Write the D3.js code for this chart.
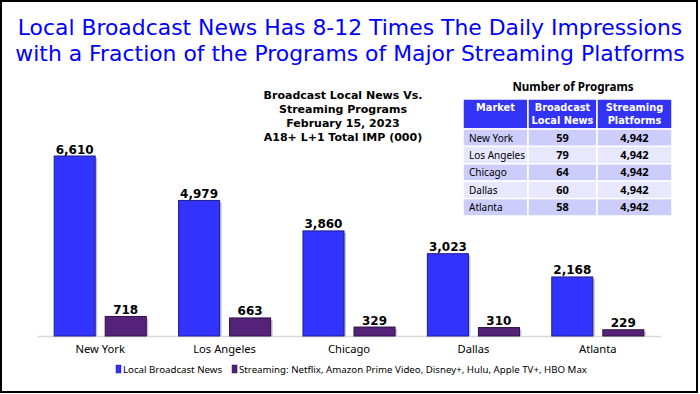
<!DOCTYPE html>
<html>
<head>
<meta charset="utf-8">
<script src="https://cdn.jsdelivr.net/npm/d3@7"></script>
<style>
  body { margin: 0; background: #fff; }
  svg { display: block; }
  text { font-family: "Noto Sans", "Open Sans", sans-serif; }
  text.dv { font-family: "DejaVu Sans", sans-serif; }
</style>
</head>
<body>
<svg id="chart" width="700" height="394"></svg>
<script>
// chart data
const markets = ['New York', 'Los Angeles', 'Chicago', 'Dallas', 'Atlanta'];
const broadcastImp = [6610, 4979, 3860, 3023, 2168];
const streamingImp = [718, 663, 329, 310, 229];
const seriesNames = ['Local Broadcast News', 'Streaming: Netflix, Amazon Prime Video, Disney+, Hulu, Apple TV+, HBO Max'];
const seriesColors = ['#3333ff', '#55227a'];
const seriesStroke = ['#1c1c8c', '#2e1045'];

// table data
const tableHeaders = [['Market'], ['Broadcast', 'Local News'], ['Streaming', 'Platforms']];
const broadcastPrograms = [59, 79, 64, 60, 58];
const streamingPrograms = [4942, 4942, 4942, 4942, 4942];

const titleLines = [
  'Local Broadcast News Has 8-12 Times The Daily Impressions',
  'with a Fraction of the Programs of Major Streaming Platforms'
];
const subtitleLines = ['Broadcast Local News Vs.', 'Streaming Programs', 'February 15, 2023', 'A18+ L+1 Total IMP (000)'];

const svg = d3.select('#chart');
const fmt = d3.format(',');

// frame
svg.append('rect')
    .attr('x', 1).attr('y', 1)
    .attr('width', 696).attr('height', 391)
    .attr('fill', '#fff')
    .attr('stroke', '#000')
    .attr('stroke-width', 2);

// title, sized to fit the width of the first line
const title = svg.append('g');
const t1 = title.append('text')
    .attr('class', 'dv')
    .attr('x', 350).attr('y', 35)
    .attr('text-anchor', 'middle')
    .attr('font-size', 20)
    .attr('fill', '#0000ff')
    .text(titleLines[0]);
const fitSize = 20 * 665 / t1.node().getComputedTextLength();
t1.attr('font-size', fitSize);
title.append('text')
    .attr('class', 'dv')
    .attr('x', 350).attr('y', 61)
    .attr('text-anchor', 'middle')
    .attr('font-size', fitSize)
    .attr('fill', '#0000ff')
    .text(titleLines[1]);

// subtitle
svg.append('g').selectAll('text')
    .data(subtitleLines)
  .enter().append('text')
    .attr('class', 'dv')
    .attr('x', 343)
    .attr('y', (d, i) => 99 + i * 14)
    .attr('text-anchor', 'middle')
    .attr('font-size', 11)
    .attr('font-weight', 'bold')
    .text(d => d);

// scales
const x0 = d3.scaleBand()
    .domain(markets)
    .range([38, 660])
    .paddingInner(0.26)
    .paddingOuter(0.13);

const x1 = d3.scaleBand()
    .domain([0, 1])
    .range([0, x0.bandwidth()])
    .paddingInner(0.196);

const y = d3.scaleLinear()
    .domain([0, 7000])
    .range([336, 145.4]);

const rows = markets.map((m, i) => ({market: m, values: [broadcastImp[i], streamingImp[i]]}));

// baseline
svg.append('line')
    .attr('x1', 38).attr('x2', 661)
    .attr('y1', y(0) + 0.5).attr('y2', y(0) + 0.5)
    .attr('stroke', '#d9d9d9')
    .attr('stroke-width', 1.5);

const groups = svg.append('g').selectAll('g')
    .data(rows)
  .enter().append('g')
    .attr('transform', d => `translate(${x0(d.market)},0)`);

const cells = groups.selectAll('g')
    .data(d => d.values.map((v, k) => ({k: k, v: v})))
  .enter().append('g');

// soft shadow to the right of each bar
cells.append('rect')
    .attr('x', d => x1(d.k) + 2)
    .attr('y', d => y(d.v) + 2)
    .attr('width', x1.bandwidth())
    .attr('height', d => y(0) - y(d.v) - 2)
    .attr('fill', '#c4c4c4');

cells.append('rect')
    .attr('x', d => x1(d.k))
    .attr('y', d => y(d.v))
    .attr('width', x1.bandwidth())
    .attr('height', d => y(0) - y(d.v))
    .attr('fill', d => seriesColors[d.k])
    .attr('stroke', d => seriesStroke[d.k])
    .attr('stroke-width', 1);

cells.append('text')
    .attr('class', 'dv')
    .attr('x', d => x1(d.k) + x1.bandwidth() / 2)
    .attr('y', d => y(d.v) - 2.5)
    .attr('text-anchor', 'middle')
    .attr('font-size', 12)
    .attr('font-weight', 'bold')
    .text(d => fmt(d.v));

// category labels
svg.append('g').selectAll('text')
    .data(markets)
  .enter().append('text')
    .attr('x', d => x0(d) + x0.bandwidth() / 2)
    .attr('y', 353)
    .attr('text-anchor', 'middle')
    .attr('font-size', 11.2)
    .text(d => d);

// legend
const legend = svg.append('g').attr('transform', 'translate(116,369)');
let lx = 0;
seriesNames.forEach((name, i) => {
  legend.append('rect')
      .attr('x', lx).attr('y', -4)
      .attr('width', 5).attr('height', 8)
      .attr('fill', seriesColors[i])
      .attr('stroke', seriesStroke[i])
      .attr('stroke-width', 0.5);
  const t = legend.append('text')
      .attr('x', lx + 7).attr('y', 3.5)
      .attr('font-size', 9.7)
      .text(name);
  lx += 7 + t.node().getComputedTextLength() + 10;
});

// number of programs table
const colEdges = [463, 528, 597, 672];
const headTop = 99, headH = 30, rowH = 17.4;

svg.append('text')
    .attr('x', 573).attr('y', 91)
    .attr('text-anchor', 'middle')
    .attr('font-size', 11.6)
    .attr('font-weight', 'bold')
    .text('Number of Programs');

const table = svg.append('g');
table.selectAll('rect.head')
    .data(tableHeaders)
  .enter().append('rect')
    .attr('class', 'head')
    .attr('x', (d, i) => colEdges[i])
    .attr('y', headTop)
    .attr('width', (d, i) => colEdges[i + 1] - colEdges[i])
    .attr('height', headH)
    .attr('fill', '#3333f5')
    .attr('stroke', '#fff')
    .attr('stroke-width', 1.5);

// header labels, one text per line
const headLines = [];
tableHeaders.forEach((lines, i) => lines.forEach((l, j) => headLines.push({col: i, line: j, text: l})));
table.selectAll('text.head')
    .data(headLines)
  .enter().append('text')
    .attr('class', 'head dv')
    .attr('x', d => (colEdges[d.col] + colEdges[d.col + 1]) / 2)
    .attr('y', d => headTop + 12 + d.line * 13)
    .attr('text-anchor', 'middle')
    .attr('font-size', 9.8)
    .attr('font-weight', 'bold')
    .attr('fill', '#fff')
    .text(d => d.text);

const tableRows = markets.map((m, i) => [m, fmt(broadcastPrograms[i]), fmt(streamingPrograms[i])]);

const tr = table.selectAll('g.row')
    .data(tableRows)
  .enter().append('g')
    .attr('class', 'row')
    .attr('transform', (d, i) => `translate(0,${headTop + headH + i * rowH})`);

tr.selectAll('rect')
    .data((d, i) => d.map(v => ({v: v, r: i})))
  .enter().append('rect')
    .attr('x', (d, j) => colEdges[j])
    .attr('y', 0)
    .attr('width', (d, j) => colEdges[j + 1] - colEdges[j])
    .attr('height', rowH)
    .attr('fill', d => d.r % 2 === 0 ? '#cdcdfb' : '#e7e7fd')
    .attr('stroke', '#fff')
    .attr('stroke-width', 1.5);

tr.selectAll('text')
    .data(d => d)
  .enter().append('text')
    .attr('x', (d, j) => j === 0 ? colEdges[0] + 6 : (colEdges[j] + colEdges[j + 1]) / 2)
    .attr('y', rowH / 2 + 4)
    .attr('text-anchor', (d, j) => j === 0 ? 'start' : 'middle')
    .attr('font-size', (d, j) => j === 0 ? 10 : 11)
    .attr('font-weight', (d, j) => j === 0 ? 'normal' : 'bold')
    .text(d => d);
</script>
</body>
</html>
